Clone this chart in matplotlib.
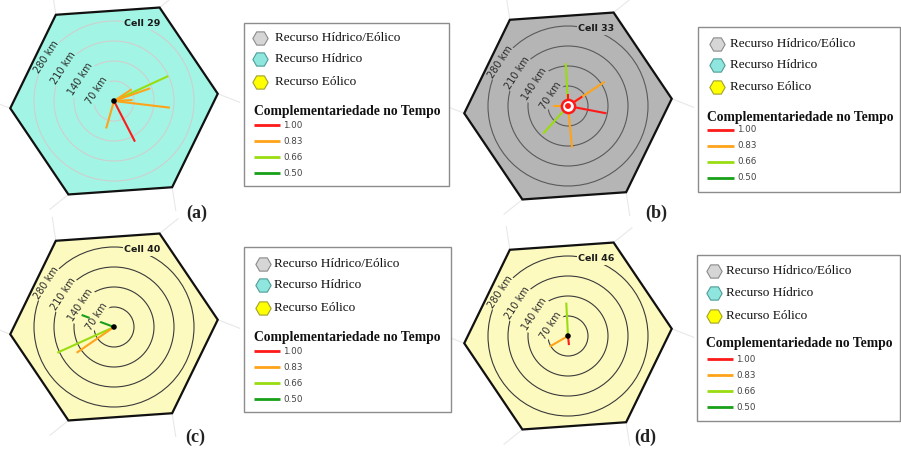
import numpy as np
import matplotlib
matplotlib.use("Agg")
import matplotlib.pyplot as plt
from matplotlib.patches import Polygon, Rectangle, Circle

# ---------------- data ----------------
cell_names = ["Cell 29", "Cell 33", "Cell 40", "Cell 46"]
panel_tags = ["(a)", "(b)", "(c)", "(d)"]
ring_km = [70, 140, 210, 280]
ring_labels = ["70 km", "140 km", "210 km", "280 km"]

cell29_angle = [24.7, 19.4, 33.5, 3.0, -6.8, -106.0, -62.7]
cell29_dist = [209, 134, 74, 65, 197, 100, 160]
cell29_value = [0.66, 0.83, 0.83, 0.83, 0.83, 0.83, 1.00]

cell33_angle = [93.0, 33.5, 33.5, -10.8, 90.0, 180.0, -132.0, -84.5]
cell33_dist = [150, 154, 60, 137, 41, 52, 130, 147]
cell33_value = [0.66, 0.83, 1.00, 1.00, 1.00, 0.83, 0.66, 0.83]

cell40_angle = [204.4, 214.6, 159.6]
cell40_dist = [218, 159, 121]
cell40_value = [0.66, 0.83, 0.50]

cell46_angle = [93.0, 210.0, -84.0]
cell46_dist = [117, 74, 32]
cell46_value = [0.66, 0.83, 1.00]

legend_resources = ["Recurso Hídrico/Eólico", "Recurso Hídrico", "Recurso Eólico"]
legend_values = ["1.00", "0.83", "0.66", "0.50"]
legend_title = "Complementariedade no Tempo"

# ---------------- styles ----------------
value_colors = {1.00: "#ff1a1a", 0.83: "#ffa31a", 0.66: "#99dd11", 0.50: "#18a018"}
fills = ["#a2f5e4", "#b5b5b5", "#fdfac0", "#fdfac0"]
ring_colors = ["#cfcfcf", "#5a5a5a", "#3a3a3a", "#3a3a3a"]
res_fc = ["#d6d6d6", "#8fe6df", "#ffff00"]
res_ec = ["#8a8a8a", "#4f9c96", "#a0a030"]

W, H = 901, 459
fig = plt.figure(figsize=(W / 100, H / 100), dpi=100)

centers = [(114, 101), (568, 106), (114, 327), (568, 336)]
datasets = [
    (cell29_angle, cell29_dist, cell29_value),
    (cell33_angle, cell33_dist, cell33_value),
    (cell40_angle, cell40_dist, cell40_value),
    (cell46_angle, cell46_dist, cell46_value),
]
KM_PER_PX = 3.5
HALF = 130  # px half-size of each panel axes
HEX_R = 364
HEX_ROT = 4

for i, (cx, cy) in enumerate(centers):
    ax = fig.add_axes([(cx - HALF) / W, (H - cy - HALF) / H, 2 * HALF / W, 2 * HALF / H])
    lim = HALF * KM_PER_PX
    ax.set_xlim(-lim, lim)
    ax.set_ylim(-lim, lim)
    ax.set_aspect("equal")
    ax.set_axis_off()
    ax.patch.set_alpha(0)

    va = np.deg2rad(HEX_ROT + 60 * np.arange(6))
    hx, hy = HEX_R * np.cos(va), HEX_R * np.sin(va)
    # faint radial guides beyond vertices
    for a in va:
        ax.plot([HEX_R * np.cos(a), 440 * np.cos(a - 0.08)],
                [HEX_R * np.sin(a), 440 * np.sin(a - 0.08)],
                color="#e8e8e8", lw=0.8, zorder=0, clip_on=False)
    ax.add_patch(Polygon(np.column_stack([hx, hy]), closed=True, fc=fills[i],
                         ec="none", zorder=1))
    ax.add_patch(Polygon(np.column_stack([hx, hy]), closed=True, fc="none",
                         ec="#111111", lw=1.6, zorder=7, joinstyle="miter"))
    for r in ring_km:
        ax.add_patch(Circle((0, 0), r, fc="none", ec=ring_colors[i], lw=0.8, zorder=2))

    ang, dist, val = datasets[i]
    for a, d, v in zip(ang, dist, val):
        t = np.deg2rad(a)
        ax.plot([0, d * np.cos(t)], [0, d * np.sin(t)], color=value_colors[v],
                lw=1.5, solid_capstyle="butt", zorder=3 + (0.5 if v == 1.00 else 0))

    # ring labels
    lab_ang = 147
    for r, lab in zip(ring_km, ring_labels):
        t = np.deg2rad(lab_ang)
        ax.text(r * np.cos(t), r * np.sin(t), lab, rotation=lab_ang - 90,
                ha="center", va="center", fontsize=7, color="#2a2a2a",
                family="DejaVu Sans", rotation_mode="anchor", zorder=5,
                bbox=dict(boxstyle="square,pad=0.05", fc=fills[i], ec="none"))
    t = np.deg2rad(70)
    ax.text(288 * np.cos(t), 288 * np.sin(t), cell_names[i], ha="center", va="center",
            fontsize=6.8, fontweight="bold", color="#1a1a1a", family="DejaVu Sans",
            zorder=5, bbox=dict(boxstyle="square,pad=0.15", fc=fills[i], ec="none"))

    if i == 1:
        ax.scatter([0], [0], s=90, fc="white", ec="#ff1a1a", lw=1.8, zorder=6)
        ax.scatter([0], [0], s=18, fc="#ff1a1a", ec="none", zorder=6.5)
    else:
        ax.scatter([0], [0], s=16, fc="black", ec="none", zorder=6)

# ---------------- overlay: legends and tags ----------------
ov = fig.add_axes([0, 0, 1, 1])
ov.set_xlim(0, W)
ov.set_ylim(H, 0)
ov.set_axis_off()
ov.patch.set_alpha(0)

legends = [
    dict(box=(244, 23, 449, 186), hx=260, tx=275, iy=[38, 59, 82], ttx=254, tty=112,
         lx=(254, 280), ly=[125, 141, 157, 173]),
    dict(box=(698, 27, 900, 192), hx=717, tx=730, iy=[44, 65, 87], ttx=707, tty=117,
         lx=(707, 734), ly=[130, 146, 162, 178]),
    dict(box=(244, 247, 451, 412), hx=263, tx=274, iy=[264, 285, 308], ttx=254, tty=337,
         lx=(254, 280), ly=[351, 367, 383, 399]),
    dict(box=(697, 255, 900, 421), hx=714, tx=726, iy=[271, 293, 316], ttx=706, tty=344,
         lx=(707, 733), ly=[359, 375, 391, 407]),
]
for L in legends:
    x0, y0, x1, y1 = L["box"]
    ov.add_patch(Rectangle((x0, y0), x1 - x0, y1 - y0, fc="white", ec="#8c8c8c", lw=1.0))
    for k, lab in enumerate(legend_resources):
        ov.plot([L["hx"]], [L["iy"][k]], marker="H", ms=11, mfc=res_fc[k], mec=res_ec[k],
                mew=0.8, ls="none")
        ov.text(L["tx"], L["iy"][k], lab, ha="left", va="center", fontsize=9.5,
                family="Liberation Serif", color="#111111")
    ov.text(L["ttx"], L["tty"], legend_title, ha="left", va="center", fontsize=9.8,
            fontweight="bold", family="Liberation Serif", color="#111111")
    for k, lab in enumerate(legend_values):
        v = float(lab)
        ov.plot(L["lx"], [L["ly"][k]] * 2, color=value_colors[v], lw=2.0,
                solid_capstyle="butt")
        ov.text(L["lx"][1] + 3, L["ly"][k], lab, ha="left", va="center", fontsize=6.3,
                family="DejaVu Sans", color="#444444")

tag_pos = [(197, 213), (656, 213), (195, 437), (645, 437)]
for (x, y), tag in zip(tag_pos, panel_tags):
    ov.text(x, y, tag, ha="center", va="center", fontsize=13, fontweight="bold",
            family="Liberation Serif", color="#222222")

fig.savefig("out.png", dpi=100)
